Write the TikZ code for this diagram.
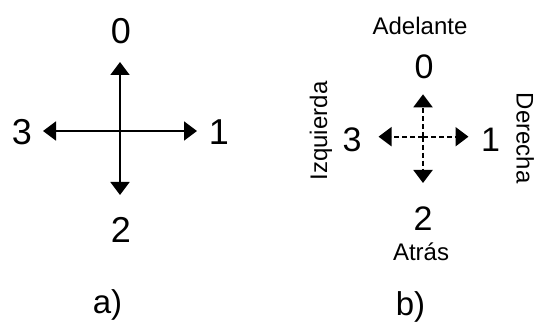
\documentclass[tikz,border=0pt]{standalone}
\usepackage{fontspec}
\setmainfont{Liberation Sans}
\usetikzlibrary{arrows.meta}
\begin{document}
\begin{tikzpicture}[x=1pt,y=1pt,
  arr/.style={line width=2pt,-{Triangle[length=13pt,width=19pt]}},
  darr/.style={arr,dash pattern=on 5pt off 3pt},
  big/.style={inner sep=0pt,anchor=base,font=\fontsize{36}{40}\selectfont},
  mid/.style={inner sep=0pt,anchor=base,font=\fontsize{34}{38}\selectfont},
  captxt/.style={inner sep=0pt,anchor=base,font=\fontsize{33}{38}\selectfont},
  lbl/.style={inner sep=0pt,anchor=base,font=\fontsize{24}{28}\selectfont}]
\useasboundingbox (0,0) rectangle (534,329);
% a)
\coordinate (ca) at (120,198);
\coordinate (ta) at (120,267);
\coordinate (ba) at (120,134);
\coordinate (la) at (43,198);
\coordinate (ra) at (197,198);
\draw[arr] (ca) -- (ta);
\draw[arr] (ca) -- (ba);
\draw[arr] (ca) -- (la);
\draw[arr] (ca) -- (ra);
\node[big] (a0) at (121,285.5) {0};
\node[big] (a3) at (22,184) {3};
\node[big] (a1) at (219,184) {1};
\node[big] (a2) at (121,87) {2};
\node[captxt] (alab) at (107.5,16) {a)};
% b)
\coordinate (cb) at (423,192.3);
\coordinate (tb) at (423,234.7);
\coordinate (bb) at (423,146);
\coordinate (lb) at (378.5,192.3);
\coordinate (rb) at (468.5,192.3);
\draw[darr] (cb) -- (tb);
\draw[darr] (cb) -- (bb);
\draw[darr] (cb) -- (lb);
\draw[darr] (cb) -- (rb);
\node[mid] (b0) at (424,250) {0};
\node[mid] (b3) at (352,177.3) {3};
\node[mid] (b1) at (490.5,177.3) {1};
\node[mid] (b2) at (423,99) {2};
\node[lbl] (adel) at (420,294) {Adelante};
\node[lbl] (atr) at (421,69) {Atrás};
\node[lbl,rotate=90] (izq) at (327,198) {Izquierda};
\node[lbl,rotate=-90] (der) at (516.5,190.7) {Derecha};
\node[captxt] (blab) at (410.5,14) {b)};
\end{tikzpicture}
\end{document}
